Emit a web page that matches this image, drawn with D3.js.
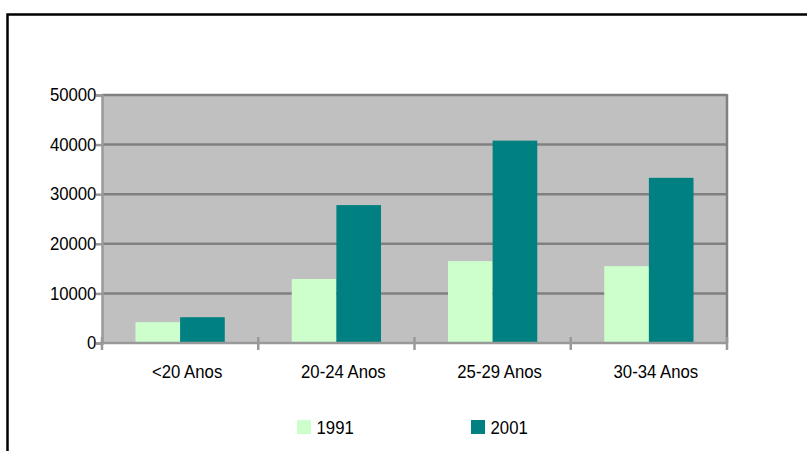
<!DOCTYPE html>
<html>
<head>
<meta charset="utf-8">
<script src="https://cdn.jsdelivr.net/npm/d3@7"></script>
<style>
  body { margin: 0; background: #fff; }
  svg { display: block; font-family: "Liberation Sans", Arial, sans-serif; }
</style>
</head>
<body>
<svg width="807" height="451"></svg>
<script>
const categories = ["<20 Anos", "20-24 Anos", "25-29 Anos", "30-34 Anos"];
const seriesNames = ["1991", "2001"];
const values1991 = [4200, 12900, 16500, 15500];
const values2001 = [5200, 27800, 40800, 33300];
const yTicks = [0, 10000, 20000, 30000, 40000, 50000];
const colors = ["#ccffcc", "#008080"];

const width = 807, height = 451;
const plot = { left: 102, right: 727, top: 95, bottom: 343 };
const fontSize = "18px";
const squeeze = "scale(0.93,1)"; // the original font is a bit narrow

const svg = d3.select("svg");

// outer frame
svg.append("rect")
  .attr("x", 7.5).attr("y", 14.5)
  .attr("width", 900).attr("height", 500)
  .attr("fill", "#fff")
  .attr("stroke", "#000").attr("stroke-width", 2.5);

const x0 = d3.scaleBand().domain(categories).range([plot.left, plot.right]).paddingInner(0).paddingOuter(0);
const x1 = d3.scaleBand().domain(seriesNames).range([0, x0.bandwidth()]).paddingInner(0).paddingOuter(0.75);
const y = d3.scaleLinear().domain([0, 50000]).range([plot.bottom, plot.top]);

// plot background
svg.append("rect")
  .attr("x", plot.left).attr("y", plot.top)
  .attr("width", plot.right - plot.left).attr("height", plot.bottom - plot.top)
  .attr("fill", "#c0c0c0");

// gridlines
svg.append("g").selectAll("line")
  .data(yTicks.filter(d => d > 0))
  .enter().append("line")
  .attr("x1", plot.left).attr("x2", plot.right)
  .attr("y1", d => y(d)).attr("y2", d => y(d))
  .attr("stroke", "#808080").attr("stroke-width", 2.5);

// right border
svg.append("line")
  .attr("x1", plot.right).attr("x2", plot.right)
  .attr("y1", plot.top - 1).attr("y2", plot.bottom)
  .attr("stroke", "#808080").attr("stroke-width", 2.5);

// bars
const rows = categories.map((c, i) => ({ cat: c, vals: [values1991[i], values2001[i]] }));
const groups = svg.append("g").selectAll("g")
  .data(rows).enter().append("g")
  .attr("transform", d => `translate(${x0(d.cat)},0)`);
groups.selectAll("rect")
  .data(d => d.vals.map((v, j) => ({ key: seriesNames[j], v, j })))
  .enter().append("rect")
  .attr("x", d => x1(d.key))
  .attr("y", d => y(d.v))
  .attr("width", x1.bandwidth())
  .attr("height", d => y(0) - y(d.v))
  .attr("fill", d => colors[d.j]);

// y axis
const yAxis = d3.axisLeft(y).tickValues(yTicks).tickSize(6).tickPadding(0).tickFormat(d3.format("d"));
const gy = svg.append("g").attr("transform", `translate(${plot.left},0)`).call(yAxis);
gy.select(".domain").attr("stroke", "#999").attr("stroke-width", 2.5);
gy.selectAll(".tick line").attr("stroke", "#999").attr("stroke-width", 2.5);
gy.selectAll(".tick text")
  .attr("font-size", fontSize).attr("fill", "#000")
  .attr("font-family", "Liberation Sans, Arial, sans-serif")
  .attr("transform", squeeze);

// x axis
svg.append("line")
  .attr("x1", plot.left - 2).attr("x2", plot.right + 1)
  .attr("y1", plot.bottom).attr("y2", plot.bottom)
  .attr("stroke", "#999").attr("stroke-width", 2.5);
const boundaries = categories.map(c => x0(c)).concat([x0.range()[1]]);
svg.append("g").selectAll("line")
  .data(boundaries).enter().append("line")
  .attr("x1", d => d).attr("x2", d => d)
  .attr("y1", plot.bottom - 6).attr("y2", plot.bottom + 7)
  .attr("stroke", "#999").attr("stroke-width", 2.5);

const xAxis = d3.axisBottom(x0).tickSize(0).tickPadding(0);
const gx = svg.append("g").attr("transform", `translate(7,${plot.bottom})`).call(xAxis);
gx.select(".domain").remove();
gx.selectAll(".tick text").attr("dy", null).attr("y", 35)
  .attr("font-size", fontSize).attr("fill", "#000")
  .attr("font-family", "Liberation Sans, Arial, sans-serif")
  .attr("transform", squeeze);

// legend
const legendX = [297, 471];
const legend = svg.append("g").selectAll("g")
  .data(seriesNames).enter().append("g")
  .attr("transform", (d, i) => `translate(${legendX[i]},420)`);
legend.append("rect")
  .attr("width", 14).attr("height", 14)
  .attr("fill", (d, i) => colors[i]);
legend.append("text")
  .attr("x", 21).attr("y", 14)
  .attr("font-size", fontSize).attr("fill", "#000")
  .attr("transform", squeeze)
  .text(d => d);
</script>
</body>
</html>
